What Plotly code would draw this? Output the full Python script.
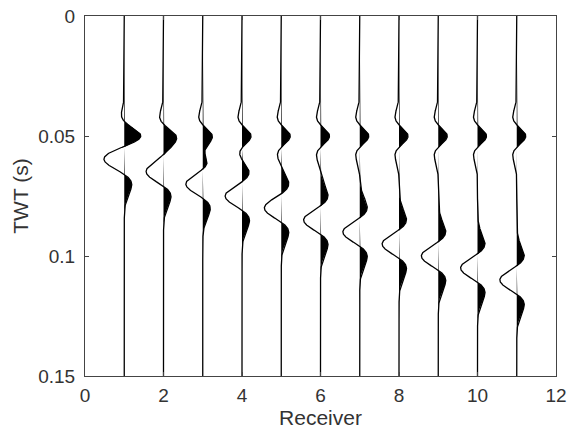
import numpy as np
import plotly.graph_objects as go

# ---- data ----
receivers = [1, 2, 3, 4, 5, 6, 7, 8, 9, 10, 11]
direct_time = [0.050] * 11                      # s, first (positive) event
direct_amp = [0.23] * 11                        # trace-offset units
refl_time = [0.060, 0.065, 0.070, 0.075, 0.080, 0.085,
             0.090, 0.095, 0.100, 0.105, 0.110]  # s, second (negative) event
refl_amp = [-0.43] * 11
direct_freq = 48.0   # Hz, wavelet peak frequency
refl_freq = 38.0     # Hz
x_ticks = [0, 2, 4, 6, 8, 10, 12]
y_ticks = [0, 0.05, 0.1, 0.15]
y_tick_text = ["0", "0.05", "0.1", "0.15"]

t = np.linspace(0, 0.15, 1501)


def ricker(tt, t0, f):
    a = (np.pi * f * (tt - t0)) ** 2
    return (1 - 2 * a) * np.exp(-a)


fig = go.Figure()
for k, r in enumerate(receivers):
    w = direct_amp[k] * ricker(t, direct_time[k], direct_freq) + \
        refl_amp[k] * ricker(t, refl_time[k], refl_freq)
    pos = np.maximum(w, 0)
    fx = np.concatenate([r + pos, [r, r]])
    fy = np.concatenate([t, [t[-1], t[0]]])
    fig.add_trace(go.Scatter(x=fx, y=fy, fill="toself", fillcolor="black",
                             line=dict(width=0), mode="lines",
                             hoverinfo="skip", showlegend=False))
    fig.add_trace(go.Scatter(x=r + w, y=t, mode="lines",
                             line=dict(color="black", width=1.3),
                             showlegend=False))

FONT = "Liberation Sans, Arial"
axis_common = dict(showline=True, linecolor="#444", linewidth=1,
                   mirror="ticks", ticks="inside", ticklen=4,
                   tickcolor="#444", showgrid=False, zeroline=False,
                   automargin=False, ticklabeloverflow="allow",
                   tickfont=dict(family=FONT, size=19, color="#333"))

fig.update_xaxes(range=[0, 12], tickvals=x_ticks, ticklabelstandoff=2,
                 title=dict(text="Receiver", standoff=4,
                            font=dict(family=FONT, size=21, color="#333")),
                 **axis_common)
fig.update_yaxes(range=[0.15, 0], tickvals=y_ticks, ticktext=y_tick_text,
                 ticklabelstandoff=5,
                 title=dict(text="TWT (s)", standoff=3,
                            font=dict(family=FONT, size=21, color="#333")),
                 **axis_common)

fig.update_layout(width=567, height=439,
                  margin=dict(l=85, r=11, t=16, b=63),
                  plot_bgcolor="white", paper_bgcolor="white")

fig.write_html("out.html", config={"displayModeBar": False},
               post_script="document.body.style.margin='0';"
                           "document.body.style.overflow='hidden';")
